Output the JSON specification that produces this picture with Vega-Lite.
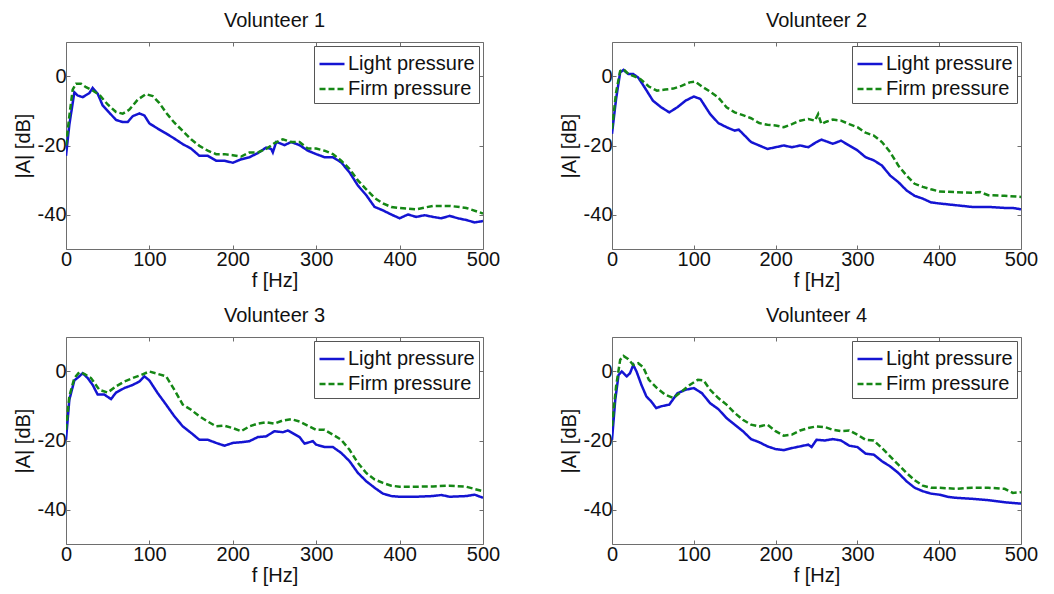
{
"$schema": "https://vega.github.io/schema/vega-lite/v6.json",
"padding": {"left": 12, "top": 10, "right": 5, "bottom": 5},
"background": "white",
"bounds": "flush",
"spacing": {"column": 129, "row": 88},
"columns": 2,
"config": {
  "font": "Liberation Sans",
  "view": {"stroke": "#6e6e6e", "strokeWidth": 1},
  "axis": {"labelFont": "Liberation Sans", "labelFontSize": 20, "labelColor": "#111", "titleFont": "Liberation Sans", "titleFontSize": 20, "titleFontWeight": "normal", "titleColor": "#111", "grid": false, "domain": false, "tickColor": "#6e6e6e", "tickSize": -4, "labelPadding": 4, "labelFlush": false, "labelOverlap": false, "labelExpr": "toString(datum.value)"},
  "title": {"font": "Liberation Sans", "fontSize": 20, "fontWeight": "normal", "color": "#111", "baseline": "alphabetic", "offset": 11},
  "legend": {"orient": "top-right", "offset": 4, "fillColor": "white", "strokeColor": "#555", "padding": 4, "labelFont": "Liberation Sans", "labelFontSize": 20, "labelColor": "#111", "symbolType": "stroke", "symbolSize": 625, "symbolStrokeWidth": 2.5, "labelOffset": 2, "rowPadding": 1, "title": null}
},
"data": {"values": [
{"v":1,"p":"Light pressure","f":0,"a":-23},{"v":1,"p":"Light pressure","f":4,"a":-14},{"v":1,"p":"Light pressure","f":10,"a":-4.6},{"v":1,"p":"Light pressure","f":14,"a":-5.5},{"v":1,"p":"Light pressure","f":20,"a":-6},{"v":1,"p":"Light pressure","f":28,"a":-4.8},{"v":1,"p":"Light pressure","f":32,"a":-3.3},{"v":1,"p":"Light pressure","f":38,"a":-5},{"v":1,"p":"Light pressure","f":44,"a":-8.4},{"v":1,"p":"Light pressure","f":52,"a":-10.5},{"v":1,"p":"Light pressure","f":60,"a":-12.6},{"v":1,"p":"Light pressure","f":68,"a":-13.2},{"v":1,"p":"Light pressure","f":74,"a":-13.2},{"v":1,"p":"Light pressure","f":80,"a":-11.5},{"v":1,"p":"Light pressure","f":88,"a":-10.7},{"v":1,"p":"Light pressure","f":94,"a":-11.3},{"v":1,"p":"Light pressure","f":100,"a":-13.6},{"v":1,"p":"Light pressure","f":110,"a":-15.1},{"v":1,"p":"Light pressure","f":120,"a":-16.5},{"v":1,"p":"Light pressure","f":130,"a":-18},{"v":1,"p":"Light pressure","f":140,"a":-19.6},{"v":1,"p":"Light pressure","f":150,"a":-20.9},{"v":1,"p":"Light pressure","f":160,"a":-23},{"v":1,"p":"Light pressure","f":170,"a":-23},{"v":1,"p":"Light pressure","f":180,"a":-24.4},{"v":1,"p":"Light pressure","f":190,"a":-24.4},{"v":1,"p":"Light pressure","f":200,"a":-25},{"v":1,"p":"Light pressure","f":210,"a":-24},{"v":1,"p":"Light pressure","f":220,"a":-23.4},{"v":1,"p":"Light pressure","f":230,"a":-22.2},{"v":1,"p":"Light pressure","f":240,"a":-20.6},{"v":1,"p":"Light pressure","f":246,"a":-21},{"v":1,"p":"Light pressure","f":248,"a":-22},{"v":1,"p":"Light pressure","f":252,"a":-19},{"v":1,"p":"Light pressure","f":256,"a":-19.3},{"v":1,"p":"Light pressure","f":262,"a":-19.9},{"v":1,"p":"Light pressure","f":270,"a":-19},{"v":1,"p":"Light pressure","f":280,"a":-19.9},{"v":1,"p":"Light pressure","f":290,"a":-21.5},{"v":1,"p":"Light pressure","f":300,"a":-22.5},{"v":1,"p":"Light pressure","f":310,"a":-23.4},{"v":1,"p":"Light pressure","f":320,"a":-23.4},{"v":1,"p":"Light pressure","f":330,"a":-24.9},{"v":1,"p":"Light pressure","f":340,"a":-27.8},{"v":1,"p":"Light pressure","f":350,"a":-31.6},{"v":1,"p":"Light pressure","f":360,"a":-34.4},{"v":1,"p":"Light pressure","f":370,"a":-37.8},{"v":1,"p":"Light pressure","f":380,"a":-38.8},{"v":1,"p":"Light pressure","f":390,"a":-40},{"v":1,"p":"Light pressure","f":400,"a":-41.1},{"v":1,"p":"Light pressure","f":410,"a":-40},{"v":1,"p":"Light pressure","f":420,"a":-40.7},{"v":1,"p":"Light pressure","f":430,"a":-40.2},{"v":1,"p":"Light pressure","f":440,"a":-40.7},{"v":1,"p":"Light pressure","f":450,"a":-41.1},{"v":1,"p":"Light pressure","f":460,"a":-40.4},{"v":1,"p":"Light pressure","f":470,"a":-41.1},{"v":1,"p":"Light pressure","f":480,"a":-41.6},{"v":1,"p":"Light pressure","f":490,"a":-42.3},{"v":1,"p":"Light pressure","f":500,"a":-41.9},
{"v":1,"p":"Firm pressure","f":0,"a":-20},{"v":1,"p":"Firm pressure","f":4,"a":-11.5},{"v":1,"p":"Firm pressure","f":8,"a":-3.8},{"v":1,"p":"Firm pressure","f":12,"a":-2.1},{"v":1,"p":"Firm pressure","f":18,"a":-2.1},{"v":1,"p":"Firm pressure","f":24,"a":-3.1},{"v":1,"p":"Firm pressure","f":30,"a":-3.8},{"v":1,"p":"Firm pressure","f":40,"a":-5.3},{"v":1,"p":"Firm pressure","f":50,"a":-8.1},{"v":1,"p":"Firm pressure","f":60,"a":-10.3},{"v":1,"p":"Firm pressure","f":68,"a":-10.8},{"v":1,"p":"Firm pressure","f":76,"a":-9.6},{"v":1,"p":"Firm pressure","f":86,"a":-6.7},{"v":1,"p":"Firm pressure","f":96,"a":-5.1},{"v":1,"p":"Firm pressure","f":104,"a":-5.7},{"v":1,"p":"Firm pressure","f":112,"a":-7.7},{"v":1,"p":"Firm pressure","f":120,"a":-10.5},{"v":1,"p":"Firm pressure","f":130,"a":-13.4},{"v":1,"p":"Firm pressure","f":140,"a":-15.8},{"v":1,"p":"Firm pressure","f":150,"a":-18.2},{"v":1,"p":"Firm pressure","f":160,"a":-20.1},{"v":1,"p":"Firm pressure","f":170,"a":-21.5},{"v":1,"p":"Firm pressure","f":180,"a":-22.5},{"v":1,"p":"Firm pressure","f":190,"a":-22.5},{"v":1,"p":"Firm pressure","f":200,"a":-22.8},{"v":1,"p":"Firm pressure","f":210,"a":-23.2},{"v":1,"p":"Firm pressure","f":220,"a":-22},{"v":1,"p":"Firm pressure","f":230,"a":-22},{"v":1,"p":"Firm pressure","f":240,"a":-21},{"v":1,"p":"Firm pressure","f":250,"a":-19.3},{"v":1,"p":"Firm pressure","f":260,"a":-18.2},{"v":1,"p":"Firm pressure","f":270,"a":-19},{"v":1,"p":"Firm pressure","f":280,"a":-19},{"v":1,"p":"Firm pressure","f":290,"a":-20.9},{"v":1,"p":"Firm pressure","f":300,"a":-20.9},{"v":1,"p":"Firm pressure","f":310,"a":-21.5},{"v":1,"p":"Firm pressure","f":320,"a":-22.5},{"v":1,"p":"Firm pressure","f":330,"a":-24.4},{"v":1,"p":"Firm pressure","f":340,"a":-26.8},{"v":1,"p":"Firm pressure","f":350,"a":-30.1},{"v":1,"p":"Firm pressure","f":360,"a":-32.7},{"v":1,"p":"Firm pressure","f":370,"a":-35.2},{"v":1,"p":"Firm pressure","f":380,"a":-36.8},{"v":1,"p":"Firm pressure","f":390,"a":-37.8},{"v":1,"p":"Firm pressure","f":400,"a":-38.1},{"v":1,"p":"Firm pressure","f":420,"a":-38.5},{"v":1,"p":"Firm pressure","f":440,"a":-37.5},{"v":1,"p":"Firm pressure","f":460,"a":-37.5},{"v":1,"p":"Firm pressure","f":480,"a":-38.1},{"v":1,"p":"Firm pressure","f":500,"a":-39.7},
{"v":2,"p":"Light pressure","f":0,"a":-16.6},{"v":2,"p":"Light pressure","f":5,"a":-6.5},{"v":2,"p":"Light pressure","f":10,"a":1.2},{"v":2,"p":"Light pressure","f":14,"a":1.9},{"v":2,"p":"Light pressure","f":20,"a":0.7},{"v":2,"p":"Light pressure","f":26,"a":0.7},{"v":2,"p":"Light pressure","f":32,"a":-0.3},{"v":2,"p":"Light pressure","f":40,"a":-3.2},{"v":2,"p":"Light pressure","f":50,"a":-7},{"v":2,"p":"Light pressure","f":60,"a":-8.9},{"v":2,"p":"Light pressure","f":70,"a":-10.4},{"v":2,"p":"Light pressure","f":80,"a":-8.9},{"v":2,"p":"Light pressure","f":90,"a":-7},{"v":2,"p":"Light pressure","f":100,"a":-5.8},{"v":2,"p":"Light pressure","f":108,"a":-6.5},{"v":2,"p":"Light pressure","f":120,"a":-10.9},{"v":2,"p":"Light pressure","f":130,"a":-13.5},{"v":2,"p":"Light pressure","f":140,"a":-14.7},{"v":2,"p":"Light pressure","f":150,"a":-15.7},{"v":2,"p":"Light pressure","f":155,"a":-15.4},{"v":2,"p":"Light pressure","f":160,"a":-16.6},{"v":2,"p":"Light pressure","f":170,"a":-19},{"v":2,"p":"Light pressure","f":180,"a":-20},{"v":2,"p":"Light pressure","f":190,"a":-21},{"v":2,"p":"Light pressure","f":200,"a":-20.5},{"v":2,"p":"Light pressure","f":210,"a":-20},{"v":2,"p":"Light pressure","f":220,"a":-20.5},{"v":2,"p":"Light pressure","f":230,"a":-20},{"v":2,"p":"Light pressure","f":240,"a":-20.5},{"v":2,"p":"Light pressure","f":250,"a":-19},{"v":2,"p":"Light pressure","f":256,"a":-18.3},{"v":2,"p":"Light pressure","f":262,"a":-18.8},{"v":2,"p":"Light pressure","f":270,"a":-19.5},{"v":2,"p":"Light pressure","f":280,"a":-18.6},{"v":2,"p":"Light pressure","f":290,"a":-20},{"v":2,"p":"Light pressure","f":300,"a":-21.4},{"v":2,"p":"Light pressure","f":310,"a":-23.4},{"v":2,"p":"Light pressure","f":320,"a":-24.3},{"v":2,"p":"Light pressure","f":330,"a":-25.8},{"v":2,"p":"Light pressure","f":340,"a":-28.7},{"v":2,"p":"Light pressure","f":350,"a":-30.6},{"v":2,"p":"Light pressure","f":360,"a":-33},{"v":2,"p":"Light pressure","f":370,"a":-34.6},{"v":2,"p":"Light pressure","f":380,"a":-35.4},{"v":2,"p":"Light pressure","f":390,"a":-36.5},{"v":2,"p":"Light pressure","f":400,"a":-36.8},{"v":2,"p":"Light pressure","f":420,"a":-37.3},{"v":2,"p":"Light pressure","f":440,"a":-37.8},{"v":2,"p":"Light pressure","f":460,"a":-37.8},{"v":2,"p":"Light pressure","f":480,"a":-38.1},{"v":2,"p":"Light pressure","f":490,"a":-38.1},{"v":2,"p":"Light pressure","f":500,"a":-38.5},
{"v":2,"p":"Firm pressure","f":0,"a":-15.2},{"v":2,"p":"Firm pressure","f":5,"a":-4.6},{"v":2,"p":"Firm pressure","f":10,"a":1.6},{"v":2,"p":"Firm pressure","f":14,"a":2.1},{"v":2,"p":"Firm pressure","f":20,"a":0.7},{"v":2,"p":"Firm pressure","f":28,"a":0},{"v":2,"p":"Firm pressure","f":35,"a":-0.8},{"v":2,"p":"Firm pressure","f":45,"a":-2.9},{"v":2,"p":"Firm pressure","f":55,"a":-4.1},{"v":2,"p":"Firm pressure","f":65,"a":-3.8},{"v":2,"p":"Firm pressure","f":75,"a":-3.5},{"v":2,"p":"Firm pressure","f":85,"a":-2.7},{"v":2,"p":"Firm pressure","f":95,"a":-1.7},{"v":2,"p":"Firm pressure","f":102,"a":-1.5},{"v":2,"p":"Firm pressure","f":110,"a":-2.9},{"v":2,"p":"Firm pressure","f":120,"a":-4.4},{"v":2,"p":"Firm pressure","f":130,"a":-6.1},{"v":2,"p":"Firm pressure","f":140,"a":-8.9},{"v":2,"p":"Firm pressure","f":150,"a":-10.4},{"v":2,"p":"Firm pressure","f":160,"a":-11.2},{"v":2,"p":"Firm pressure","f":170,"a":-12.1},{"v":2,"p":"Firm pressure","f":180,"a":-13.5},{"v":2,"p":"Firm pressure","f":190,"a":-14},{"v":2,"p":"Firm pressure","f":200,"a":-14.2},{"v":2,"p":"Firm pressure","f":210,"a":-14.7},{"v":2,"p":"Firm pressure","f":220,"a":-13.8},{"v":2,"p":"Firm pressure","f":230,"a":-12.8},{"v":2,"p":"Firm pressure","f":240,"a":-12.3},{"v":2,"p":"Firm pressure","f":248,"a":-12.8},{"v":2,"p":"Firm pressure","f":252,"a":-10.9},{"v":2,"p":"Firm pressure","f":256,"a":-13.8},{"v":2,"p":"Firm pressure","f":262,"a":-13.1},{"v":2,"p":"Firm pressure","f":270,"a":-12.5},{"v":2,"p":"Firm pressure","f":280,"a":-12.8},{"v":2,"p":"Firm pressure","f":290,"a":-13.8},{"v":2,"p":"Firm pressure","f":300,"a":-14.7},{"v":2,"p":"Firm pressure","f":310,"a":-16.3},{"v":2,"p":"Firm pressure","f":320,"a":-17.1},{"v":2,"p":"Firm pressure","f":330,"a":-19},{"v":2,"p":"Firm pressure","f":340,"a":-21.9},{"v":2,"p":"Firm pressure","f":350,"a":-25.8},{"v":2,"p":"Firm pressure","f":360,"a":-28.7},{"v":2,"p":"Firm pressure","f":370,"a":-31.1},{"v":2,"p":"Firm pressure","f":380,"a":-32},{"v":2,"p":"Firm pressure","f":390,"a":-32.7},{"v":2,"p":"Firm pressure","f":400,"a":-33.3},{"v":2,"p":"Firm pressure","f":420,"a":-33.5},{"v":2,"p":"Firm pressure","f":440,"a":-33.7},{"v":2,"p":"Firm pressure","f":450,"a":-33.5},{"v":2,"p":"Firm pressure","f":460,"a":-34.4},{"v":2,"p":"Firm pressure","f":480,"a":-34.6},{"v":2,"p":"Firm pressure","f":500,"a":-34.9},
{"v":3,"p":"Light pressure","f":0,"a":-19.8},{"v":3,"p":"Light pressure","f":4,"a":-8.2},{"v":3,"p":"Light pressure","f":10,"a":-2.6},{"v":3,"p":"Light pressure","f":16,"a":-1.4},{"v":3,"p":"Light pressure","f":20,"a":-0.5},{"v":3,"p":"Light pressure","f":26,"a":-1.9},{"v":3,"p":"Light pressure","f":32,"a":-3.9},{"v":3,"p":"Light pressure","f":38,"a":-6.7},{"v":3,"p":"Light pressure","f":46,"a":-6.7},{"v":3,"p":"Light pressure","f":54,"a":-8},{"v":3,"p":"Light pressure","f":60,"a":-6.1},{"v":3,"p":"Light pressure","f":70,"a":-4.8},{"v":3,"p":"Light pressure","f":80,"a":-3.9},{"v":3,"p":"Light pressure","f":88,"a":-2.9},{"v":3,"p":"Light pressure","f":94,"a":-1.4},{"v":3,"p":"Light pressure","f":100,"a":-2.6},{"v":3,"p":"Light pressure","f":110,"a":-6.3},{"v":3,"p":"Light pressure","f":120,"a":-9.6},{"v":3,"p":"Light pressure","f":130,"a":-13},{"v":3,"p":"Light pressure","f":140,"a":-15.9},{"v":3,"p":"Light pressure","f":150,"a":-17.8},{"v":3,"p":"Light pressure","f":160,"a":-19.8},{"v":3,"p":"Light pressure","f":170,"a":-19.8},{"v":3,"p":"Light pressure","f":180,"a":-20.7},{"v":3,"p":"Light pressure","f":190,"a":-21.5},{"v":3,"p":"Light pressure","f":200,"a":-20.7},{"v":3,"p":"Light pressure","f":210,"a":-20.5},{"v":3,"p":"Light pressure","f":220,"a":-20.2},{"v":3,"p":"Light pressure","f":230,"a":-19},{"v":3,"p":"Light pressure","f":240,"a":-18.8},{"v":3,"p":"Light pressure","f":250,"a":-17.3},{"v":3,"p":"Light pressure","f":260,"a":-17.6},{"v":3,"p":"Light pressure","f":266,"a":-17.1},{"v":3,"p":"Light pressure","f":280,"a":-19},{"v":3,"p":"Light pressure","f":286,"a":-20.9},{"v":3,"p":"Light pressure","f":296,"a":-20.2},{"v":3,"p":"Light pressure","f":300,"a":-21.2},{"v":3,"p":"Light pressure","f":310,"a":-21.9},{"v":3,"p":"Light pressure","f":320,"a":-21.9},{"v":3,"p":"Light pressure","f":330,"a":-23.6},{"v":3,"p":"Light pressure","f":340,"a":-26},{"v":3,"p":"Light pressure","f":350,"a":-29.4},{"v":3,"p":"Light pressure","f":360,"a":-31.8},{"v":3,"p":"Light pressure","f":370,"a":-33.7},{"v":3,"p":"Light pressure","f":380,"a":-35.4},{"v":3,"p":"Light pressure","f":390,"a":-36.1},{"v":3,"p":"Light pressure","f":400,"a":-36.3},{"v":3,"p":"Light pressure","f":420,"a":-36.3},{"v":3,"p":"Light pressure","f":440,"a":-36.1},{"v":3,"p":"Light pressure","f":450,"a":-35.8},{"v":3,"p":"Light pressure","f":460,"a":-36.3},{"v":3,"p":"Light pressure","f":480,"a":-36.1},{"v":3,"p":"Light pressure","f":490,"a":-35.7},{"v":3,"p":"Light pressure","f":500,"a":-36.6},
{"v":3,"p":"Firm pressure","f":0,"a":-16.9},{"v":3,"p":"Firm pressure","f":4,"a":-7.2},{"v":3,"p":"Firm pressure","f":10,"a":-1.9},{"v":3,"p":"Firm pressure","f":16,"a":-0.2},{"v":3,"p":"Firm pressure","f":22,"a":-0.7},{"v":3,"p":"Firm pressure","f":30,"a":-1.9},{"v":3,"p":"Firm pressure","f":40,"a":-5.3},{"v":3,"p":"Firm pressure","f":50,"a":-6.1},{"v":3,"p":"Firm pressure","f":60,"a":-4.3},{"v":3,"p":"Firm pressure","f":70,"a":-2.9},{"v":3,"p":"Firm pressure","f":80,"a":-1.9},{"v":3,"p":"Firm pressure","f":90,"a":-1},{"v":3,"p":"Firm pressure","f":100,"a":0},{"v":3,"p":"Firm pressure","f":110,"a":-0.7},{"v":3,"p":"Firm pressure","f":120,"a":-1.4},{"v":3,"p":"Firm pressure","f":130,"a":-5.3},{"v":3,"p":"Firm pressure","f":140,"a":-9.6},{"v":3,"p":"Firm pressure","f":150,"a":-11.1},{"v":3,"p":"Firm pressure","f":160,"a":-13},{"v":3,"p":"Firm pressure","f":170,"a":-14.5},{"v":3,"p":"Firm pressure","f":180,"a":-15.9},{"v":3,"p":"Firm pressure","f":190,"a":-15.7},{"v":3,"p":"Firm pressure","f":200,"a":-16.4},{"v":3,"p":"Firm pressure","f":210,"a":-17.3},{"v":3,"p":"Firm pressure","f":220,"a":-15.9},{"v":3,"p":"Firm pressure","f":230,"a":-15.1},{"v":3,"p":"Firm pressure","f":240,"a":-14.7},{"v":3,"p":"Firm pressure","f":250,"a":-15.1},{"v":3,"p":"Firm pressure","f":260,"a":-14.2},{"v":3,"p":"Firm pressure","f":270,"a":-13.8},{"v":3,"p":"Firm pressure","f":280,"a":-14.5},{"v":3,"p":"Firm pressure","f":290,"a":-15.7},{"v":3,"p":"Firm pressure","f":300,"a":-16.9},{"v":3,"p":"Firm pressure","f":310,"a":-16.9},{"v":3,"p":"Firm pressure","f":320,"a":-18.3},{"v":3,"p":"Firm pressure","f":330,"a":-19.8},{"v":3,"p":"Firm pressure","f":340,"a":-22.7},{"v":3,"p":"Firm pressure","f":350,"a":-26.5},{"v":3,"p":"Firm pressure","f":360,"a":-29.4},{"v":3,"p":"Firm pressure","f":370,"a":-31.3},{"v":3,"p":"Firm pressure","f":380,"a":-32.3},{"v":3,"p":"Firm pressure","f":390,"a":-33.1},{"v":3,"p":"Firm pressure","f":400,"a":-33.4},{"v":3,"p":"Firm pressure","f":420,"a":-33.4},{"v":3,"p":"Firm pressure","f":440,"a":-33.3},{"v":3,"p":"Firm pressure","f":460,"a":-33.1},{"v":3,"p":"Firm pressure","f":480,"a":-33.4},{"v":3,"p":"Firm pressure","f":500,"a":-34.7},
{"v":4,"p":"Light pressure","f":0,"a":-19.8},{"v":4,"p":"Light pressure","f":4,"a":-8.2},{"v":4,"p":"Light pressure","f":8,"a":-1},{"v":4,"p":"Light pressure","f":12,"a":0},{"v":4,"p":"Light pressure","f":18,"a":-1.4},{"v":4,"p":"Light pressure","f":22,"a":-0.5},{"v":4,"p":"Light pressure","f":26,"a":1.9},{"v":4,"p":"Light pressure","f":30,"a":0},{"v":4,"p":"Light pressure","f":36,"a":-3.9},{"v":4,"p":"Light pressure","f":42,"a":-7.2},{"v":4,"p":"Light pressure","f":48,"a":-8.7},{"v":4,"p":"Light pressure","f":54,"a":-10.6},{"v":4,"p":"Light pressure","f":60,"a":-10.1},{"v":4,"p":"Light pressure","f":70,"a":-9.6},{"v":4,"p":"Light pressure","f":80,"a":-6.3},{"v":4,"p":"Light pressure","f":90,"a":-5.3},{"v":4,"p":"Light pressure","f":100,"a":-4.8},{"v":4,"p":"Light pressure","f":110,"a":-6.3},{"v":4,"p":"Light pressure","f":120,"a":-9.2},{"v":4,"p":"Light pressure","f":130,"a":-10.9},{"v":4,"p":"Light pressure","f":140,"a":-13.5},{"v":4,"p":"Light pressure","f":150,"a":-15.4},{"v":4,"p":"Light pressure","f":160,"a":-17.3},{"v":4,"p":"Light pressure","f":170,"a":-19.6},{"v":4,"p":"Light pressure","f":180,"a":-20.5},{"v":4,"p":"Light pressure","f":190,"a":-21.7},{"v":4,"p":"Light pressure","f":200,"a":-22.5},{"v":4,"p":"Light pressure","f":210,"a":-22.8},{"v":4,"p":"Light pressure","f":220,"a":-22.2},{"v":4,"p":"Light pressure","f":230,"a":-21.7},{"v":4,"p":"Light pressure","f":240,"a":-21.2},{"v":4,"p":"Light pressure","f":244,"a":-21.9},{"v":4,"p":"Light pressure","f":250,"a":-19.8},{"v":4,"p":"Light pressure","f":260,"a":-20},{"v":4,"p":"Light pressure","f":270,"a":-19.6},{"v":4,"p":"Light pressure","f":280,"a":-20},{"v":4,"p":"Light pressure","f":290,"a":-21.5},{"v":4,"p":"Light pressure","f":300,"a":-21.9},{"v":4,"p":"Light pressure","f":310,"a":-23.8},{"v":4,"p":"Light pressure","f":320,"a":-24.1},{"v":4,"p":"Light pressure","f":330,"a":-26},{"v":4,"p":"Light pressure","f":340,"a":-27.5},{"v":4,"p":"Light pressure","f":350,"a":-29.4},{"v":4,"p":"Light pressure","f":360,"a":-31.8},{"v":4,"p":"Light pressure","f":370,"a":-33.7},{"v":4,"p":"Light pressure","f":380,"a":-34.7},{"v":4,"p":"Light pressure","f":390,"a":-35.4},{"v":4,"p":"Light pressure","f":400,"a":-35.7},{"v":4,"p":"Light pressure","f":410,"a":-36.3},{"v":4,"p":"Light pressure","f":420,"a":-36.6},{"v":4,"p":"Light pressure","f":440,"a":-36.9},{"v":4,"p":"Light pressure","f":460,"a":-37.3},{"v":4,"p":"Light pressure","f":480,"a":-37.9},{"v":4,"p":"Light pressure","f":500,"a":-38.3},
{"v":4,"p":"Firm pressure","f":0,"a":-15.9},{"v":4,"p":"Firm pressure","f":5,"a":-4.3},{"v":4,"p":"Firm pressure","f":10,"a":3.4},{"v":4,"p":"Firm pressure","f":14,"a":4.5},{"v":4,"p":"Firm pressure","f":20,"a":3.6},{"v":4,"p":"Firm pressure","f":26,"a":1.9},{"v":4,"p":"Firm pressure","f":32,"a":2.4},{"v":4,"p":"Firm pressure","f":38,"a":1.3},{"v":4,"p":"Firm pressure","f":45,"a":-2.4},{"v":4,"p":"Firm pressure","f":55,"a":-4.8},{"v":4,"p":"Firm pressure","f":65,"a":-6.7},{"v":4,"p":"Firm pressure","f":75,"a":-7.7},{"v":4,"p":"Firm pressure","f":85,"a":-5.8},{"v":4,"p":"Firm pressure","f":95,"a":-3.9},{"v":4,"p":"Firm pressure","f":105,"a":-2.4},{"v":4,"p":"Firm pressure","f":112,"a":-2.6},{"v":4,"p":"Firm pressure","f":120,"a":-5.3},{"v":4,"p":"Firm pressure","f":130,"a":-7.7},{"v":4,"p":"Firm pressure","f":140,"a":-9.6},{"v":4,"p":"Firm pressure","f":150,"a":-12},{"v":4,"p":"Firm pressure","f":160,"a":-14},{"v":4,"p":"Firm pressure","f":170,"a":-15.4},{"v":4,"p":"Firm pressure","f":180,"a":-15.9},{"v":4,"p":"Firm pressure","f":190,"a":-15.4},{"v":4,"p":"Firm pressure","f":200,"a":-17.3},{"v":4,"p":"Firm pressure","f":210,"a":-18.6},{"v":4,"p":"Firm pressure","f":220,"a":-18.3},{"v":4,"p":"Firm pressure","f":230,"a":-17.1},{"v":4,"p":"Firm pressure","f":240,"a":-16.4},{"v":4,"p":"Firm pressure","f":250,"a":-15.9},{"v":4,"p":"Firm pressure","f":260,"a":-16.1},{"v":4,"p":"Firm pressure","f":270,"a":-16.9},{"v":4,"p":"Firm pressure","f":280,"a":-17.3},{"v":4,"p":"Firm pressure","f":290,"a":-17.1},{"v":4,"p":"Firm pressure","f":300,"a":-18.3},{"v":4,"p":"Firm pressure","f":310,"a":-19.8},{"v":4,"p":"Firm pressure","f":320,"a":-20},{"v":4,"p":"Firm pressure","f":330,"a":-22.2},{"v":4,"p":"Firm pressure","f":340,"a":-24.6},{"v":4,"p":"Firm pressure","f":350,"a":-27},{"v":4,"p":"Firm pressure","f":360,"a":-29.4},{"v":4,"p":"Firm pressure","f":370,"a":-31.5},{"v":4,"p":"Firm pressure","f":380,"a":-33.1},{"v":4,"p":"Firm pressure","f":390,"a":-33.7},{"v":4,"p":"Firm pressure","f":400,"a":-33.7},{"v":4,"p":"Firm pressure","f":420,"a":-34},{"v":4,"p":"Firm pressure","f":440,"a":-33.7},{"v":4,"p":"Firm pressure","f":460,"a":-33.7},{"v":4,"p":"Firm pressure","f":480,"a":-34},{"v":4,"p":"Firm pressure","f":490,"a":-35.2},{"v":4,"p":"Firm pressure","f":500,"a":-35}
]},
"concat": [
 {"title": "Volunteer 1", "width": 417, "height": 207, "transform": [{"filter": "datum.v == 1"}],
  "layer": [
   {"mark": {"type": "line", "strokeWidth": 2.5, "clip": true},
    "encoding": {
     "x": {"field": "f", "type": "quantitative", "scale": {"domain": [0, 500], "nice": false}, "axis": {"orient": "bottom", "values": [0,100,200,300,400,500], "title": "f [Hz]", "titlePadding": 1}},
     "y": {"field": "a", "type": "quantitative", "scale": {"domain": [-50, 10], "nice": false}, "axis": {"orient": "left", "values": [-40,-20,0], "title": "|A| [dB]", "titlePadding": 4}},
     "color": {"field": "p", "type": "nominal", "scale": {"domain": ["Light pressure", "Firm pressure"], "range": ["#1414d2", "#158715"]}},
     "strokeDash": {"field": "p", "type": "nominal", "scale": {"domain": ["Light pressure", "Firm pressure"], "range": [[1, 0], [6, 3]]}}
    }},
   {"mark": {"type": "line", "opacity": 0},
    "encoding": {
     "x": {"field": "f", "type": "quantitative", "axis": {"orient": "top", "values": [0,100,200,300,400,500], "labels": false, "title": null}},
     "y": {"field": "a", "type": "quantitative", "axis": {"orient": "right", "values": [-40,-20,0], "labels": false, "title": null}},
     "detail": {"field": "p"}
    }}
  ],
  "resolve": {"axis": {"x": "independent", "y": "independent"}}
 },
 {"title": "Volunteer 2", "width": 409, "height": 207, "transform": [{"filter": "datum.v == 2"}],
  "layer": [
   {"mark": {"type": "line", "strokeWidth": 2.5, "clip": true},
    "encoding": {
     "x": {"field": "f", "type": "quantitative", "scale": {"domain": [0, 500], "nice": false}, "axis": {"orient": "bottom", "values": [0,100,200,300,400,500], "title": "f [Hz]", "titlePadding": 1}},
     "y": {"field": "a", "type": "quantitative", "scale": {"domain": [-50, 10], "nice": false}, "axis": {"orient": "left", "values": [-40,-20,0], "title": "|A| [dB]", "titlePadding": 4}},
     "color": {"field": "p", "type": "nominal", "scale": {"domain": ["Light pressure", "Firm pressure"], "range": ["#1414d2", "#158715"]}},
     "strokeDash": {"field": "p", "type": "nominal", "scale": {"domain": ["Light pressure", "Firm pressure"], "range": [[1, 0], [6, 3]]}}
    }},
   {"mark": {"type": "line", "opacity": 0},
    "encoding": {
     "x": {"field": "f", "type": "quantitative", "axis": {"orient": "top", "values": [0,100,200,300,400,500], "labels": false, "title": null}},
     "y": {"field": "a", "type": "quantitative", "axis": {"orient": "right", "values": [-40,-20,0], "labels": false, "title": null}},
     "detail": {"field": "p"}
    }}
  ],
  "resolve": {"axis": {"x": "independent", "y": "independent"}}
 },
 {"title": "Volunteer 3", "width": 417, "height": 207, "transform": [{"filter": "datum.v == 3"}],
  "layer": [
   {"mark": {"type": "line", "strokeWidth": 2.5, "clip": true},
    "encoding": {
     "x": {"field": "f", "type": "quantitative", "scale": {"domain": [0, 500], "nice": false}, "axis": {"orient": "bottom", "values": [0,100,200,300,400,500], "title": "f [Hz]", "titlePadding": 1}},
     "y": {"field": "a", "type": "quantitative", "scale": {"domain": [-50, 10], "nice": false}, "axis": {"orient": "left", "values": [-40,-20,0], "title": "|A| [dB]", "titlePadding": 4}},
     "color": {"field": "p", "type": "nominal", "scale": {"domain": ["Light pressure", "Firm pressure"], "range": ["#1414d2", "#158715"]}},
     "strokeDash": {"field": "p", "type": "nominal", "scale": {"domain": ["Light pressure", "Firm pressure"], "range": [[1, 0], [6, 3]]}}
    }},
   {"mark": {"type": "line", "opacity": 0},
    "encoding": {
     "x": {"field": "f", "type": "quantitative", "axis": {"orient": "top", "values": [0,100,200,300,400,500], "labels": false, "title": null}},
     "y": {"field": "a", "type": "quantitative", "axis": {"orient": "right", "values": [-40,-20,0], "labels": false, "title": null}},
     "detail": {"field": "p"}
    }}
  ],
  "resolve": {"axis": {"x": "independent", "y": "independent"}}
 },
 {"title": "Volunteer 4", "width": 409, "height": 207, "transform": [{"filter": "datum.v == 4"}],
  "layer": [
   {"mark": {"type": "line", "strokeWidth": 2.5, "clip": true},
    "encoding": {
     "x": {"field": "f", "type": "quantitative", "scale": {"domain": [0, 500], "nice": false}, "axis": {"orient": "bottom", "values": [0,100,200,300,400,500], "title": "f [Hz]", "titlePadding": 1}},
     "y": {"field": "a", "type": "quantitative", "scale": {"domain": [-50, 10], "nice": false}, "axis": {"orient": "left", "values": [-40,-20,0], "title": "|A| [dB]", "titlePadding": 4}},
     "color": {"field": "p", "type": "nominal", "scale": {"domain": ["Light pressure", "Firm pressure"], "range": ["#1414d2", "#158715"]}},
     "strokeDash": {"field": "p", "type": "nominal", "scale": {"domain": ["Light pressure", "Firm pressure"], "range": [[1, 0], [6, 3]]}}
    }},
   {"mark": {"type": "line", "opacity": 0},
    "encoding": {
     "x": {"field": "f", "type": "quantitative", "axis": {"orient": "top", "values": [0,100,200,300,400,500], "labels": false, "title": null}},
     "y": {"field": "a", "type": "quantitative", "axis": {"orient": "right", "values": [-40,-20,0], "labels": false, "title": null}},
     "detail": {"field": "p"}
    }}
  ],
  "resolve": {"axis": {"x": "independent", "y": "independent"}}
 }
],
"resolve": {"scale": {"color": "independent", "strokeDash": "independent"}, "legend": {"color": "independent", "strokeDash": "independent"}}
}
